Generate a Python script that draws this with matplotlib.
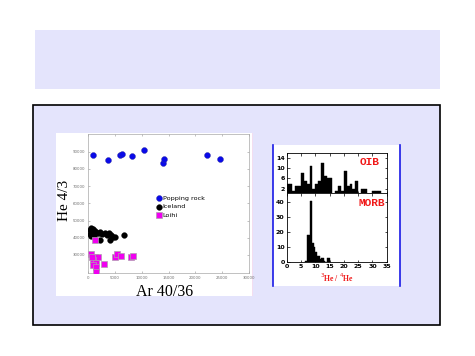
import matplotlib
matplotlib.use("Agg")
import matplotlib.pyplot as plt
from matplotlib.patches import Rectangle
from matplotlib.lines import Line2D
import numpy as np

# ---------------- data ----------------
pop_x = [990, 3670, 5960, 6280, 8140, 10500, 13900, 14220, 22170, 24600]
pop_y = [87900, 85200, 87900, 88660, 87300, 91000, 83400, 85900, 87900, 85750]

ice_x = [300, 500, 700, 900, 1100, 1300, 1600, 2000, 2300, 2700, 3100, 3500,
         3900, 4300, 4700, 5100, 6700, 4100, 2200, 600, 1200, 400]
ice_y = [44500, 45500, 43500, 45200, 42500, 44000, 43000, 42500, 43500, 42000,
         42900, 41800, 42500, 41500, 40600, 40600, 41700, 38700, 38700, 41000,
         40500, 42000]

loi_x = [560, 1300, 1920, 990, 1490, 990, 1490, 2980, 1430, 5030, 5340, 6080,
         7960, 8440, 1300, 700]
loi_y = [30350, 28600, 28600, 27000, 25500, 24100, 23100, 24700, 20200, 28600,
         30350, 29500, 28600, 29400, 38700, 29000]

series_labels = ["Popping rock", "Iceland", "Loihi"]
scatter_xticks = [0, 5000, 10000, 15000, 20000, 25000, 30000]
scatter_yticks = [30000, 40000, 50000, 60000, 70000, 80000, 90000]

oib_edges = list(range(0, 36))
oib_counts = [4, 4, 1, 3, 3, 8, 5, 4, 11, 2, 4, 5, 12, 7, 6, 6, 0, 1, 3, 1,
              9, 3, 4, 2, 5, 0, 2, 2, 0, 0, 1, 1, 1, 0, 0]

morb_edges = [6.5, 7.0, 7.5, 8.0, 8.5, 9.0, 9.5, 10.0, 10.5, 11.0, 11.5, 12.0,
              12.5, 13.0, 13.5, 14.0, 14.5, 15.0]
morb_counts = [1, 18, 18, 41, 41, 13, 10, 7, 4, 4, 2, 3, 3, 1, 0, 3, 3]

oib_yticks = [2, 6, 10, 14]
morb_yticks = [0, 10, 20, 30, 40]
hist_xticks = [0, 5, 10, 15, 20, 25, 30, 35]

# ---------------- figure ----------------
W, H = 475, 356
fig = plt.figure(figsize=(W / 100, H / 100), dpi=100)
fig.patch.set_facecolor("white")
LAV = "#E4E4FC"


def fr(x0, y0, x1, y1):
    """pixel box (top-left origin) -> figure fraction [l, b, w, h]"""
    return [x0 / W, 1 - y1 / H, (x1 - x0) / W, (y1 - y0) / H]


def rect(x0, y0, x1, y1, z=-10, **kw):
    l, b, w, h = fr(x0, y0, x1, y1)
    r = Rectangle((l, b), w, h, transform=fig.transFigure, zorder=z, **kw)
    fig.patches.append(r)
    return r


# title band
rect(35, 30, 440, 89, facecolor=LAV, edgecolor="none")
# content box
rect(32.5, 104.5, 440, 324.5, facecolor=LAV, edgecolor="black", linewidth=1.2)
# left white panel
left_panel = rect(56, 133, 252, 296, z=-9, facecolor="white", edgecolor="none")
rect(251.5, 133, 253, 296, z=-9, facecolor="#F3DDF0", edgecolor="none")
# right white panel
rect(272.5, 145, 399.5, 285.5, z=-9, facecolor="white", edgecolor="none")
for xx in (272.5, 399.5):
    fig.lines.append(Line2D([xx / W, xx / W], [1 - 285.5 / H, 1 - 145 / H],
                            transform=fig.transFigure, color="#1A1AE6",
                            linewidth=1.2, zorder=-8))

# ---------------- scatter ----------------
ax = fig.add_axes(fr(88, 134, 249, 273))
ax.set_facecolor("white")
ax.scatter(pop_x, pop_y, s=18, color="#0A0AE8", edgecolors="#3030A0",
           linewidths=0.3, label=series_labels[0], zorder=3)
ax.scatter(ice_x, ice_y, s=17, color="black", edgecolors="black",
           linewidths=0.3, label=series_labels[1], zorder=3)
ax.scatter(loi_x, loi_y, s=14, marker="s", color="#F000F0",
           edgecolors="#B0A0B0", linewidths=0.5, label=series_labels[2],
           zorder=4)
ax.set_xlim(0, 30000)
ax.set_ylim(19500, 100300)
ax.set_xticks(scatter_xticks)
ax.set_yticks(scatter_yticks)
ax.tick_params(direction="in", length=1.5, width=0.4, colors="#909090",
               labelsize=2.8, labelcolor="#707070", pad=2,
               top=True, right=True)
for sp in ax.spines.values():
    sp.set_color("#A8A8A8")
    sp.set_linewidth(0.5)
leg = ax.legend(loc="upper left", bbox_to_anchor=(0.43, 0.56), frameon=False,
                fontsize=4.6, handlelength=0.7, handletextpad=0.15,
                labelspacing=0.5, borderpad=0, borderaxespad=0,
                markerscale=1.0)

fig.text(65 / W, 1 - 200 / H, "He 4/3", rotation=90, ha="center", va="center",
         family="Liberation Serif", fontsize=11)
t = fig.text(165 / W, 1 - 295.5 / H, "Ar 40/36", ha="center", va="baseline",
             family="Liberation Serif", fontsize=11.5)
t.set_clip_path(left_panel)

# ---------------- histograms ----------------
tick_kw = dict(direction="in", length=1.8, width=0.5, labelsize=4.5,
               top=True, right=True, pad=1.5)

ax1 = fig.add_axes(fr(286.7, 152.7, 386.7, 192.7))
ax1.bar(oib_edges[:-1], oib_counts, width=np.diff(oib_edges), align="edge",
        color="black", edgecolor="black", linewidth=0.3)
ax1.set_xlim(0, 35)
ax1.set_ylim(0.45, 16)
ax1.set_yticks(oib_yticks)
ax1.set_xticks(hist_xticks)
ax1.tick_params(labelbottom=False, **tick_kw)
for lab in ax1.get_yticklabels():
    lab.set_fontweight("bold")
ax1.text(0.93, 0.76, "OIB", transform=ax1.transAxes, ha="right", va="center",
         color="#F01818", fontsize=8, family="Liberation Mono",
         fontweight="bold")

ax2 = fig.add_axes(fr(286.7, 192.7, 386.7, 262.3))
ax2.bar(morb_edges[:-1], morb_counts, width=np.diff(morb_edges), align="edge",
        color="black", edgecolor="black", linewidth=0.3)
ax2.set_xlim(0, 35)
ax2.set_ylim(0, 46.5)
ax2.set_yticks(morb_yticks)
ax2.set_xticks(hist_xticks)
ax2.tick_params(**tick_kw)
for lab in ax2.get_yticklabels() + ax2.get_xticklabels():
    lab.set_fontweight("bold")
ax2.text(0.985, 0.855, "MORB", transform=ax2.transAxes, ha="right",
         va="center", color="#F01818", fontsize=8, family="Liberation Mono",
         fontweight="bold")
ax2.set_xlabel(r"$^{3}$He / $^{4}$He", color="#F01818", fontsize=5.5,
               family="Liberation Serif", fontweight="bold", labelpad=1.5)

for a in (ax1, ax2):
    for sp in a.spines.values():
        sp.set_linewidth(0.6)

fig.savefig("out.png", dpi=100)
